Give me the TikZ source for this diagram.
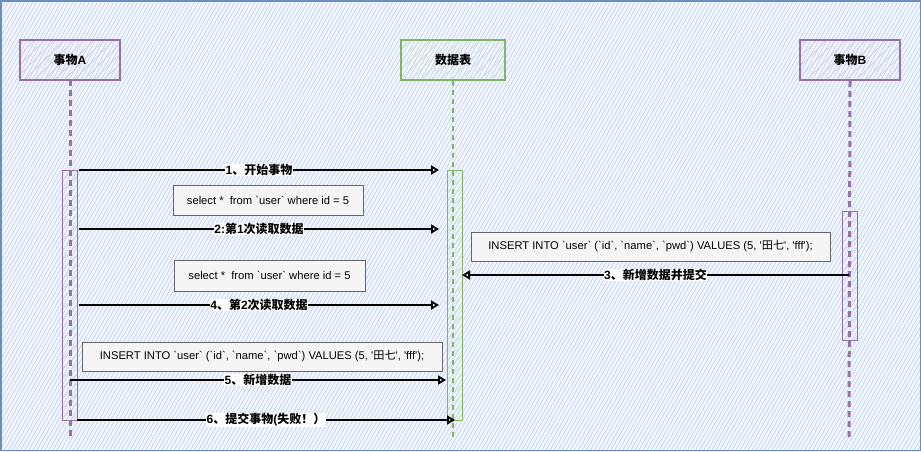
\documentclass[tikz,border=0pt]{standalone}
\usepackage{fontspec}
\setmainfont{Liberation Sans}[Ligatures=TeXOff]
\newfontfamily\cjk{Noto Sans CJK SC}
\usepackage{tikz}
\usetikzlibrary{arrows.meta,patterns.meta}

\definecolor{fondbleu}{HTML}{F4F7FD}
\definecolor{hachbleu}{HTML}{CADAF2}
\definecolor{bordbleu}{HTML}{6C8EBF}
\definecolor{mauve}{HTML}{9673A6}
\definecolor{mauveclair}{HTML}{DCCDE4}
\definecolor{vertfonce}{HTML}{82B366}
\definecolor{vertclair}{HTML}{CFE6CC}
\definecolor{grisnote}{HTML}{666666}
\definecolor{fondnote}{HTML}{F5F5F5}

\tikzset{
  acteur/.style={draw, line width=2pt, minimum height=40pt,
    font=\bfseries\fontsize{12}{14}\selectfont},
  barre/.style={draw, line width=1pt, minimum width=15pt},
  hachure/.style={pattern={Lines[angle=45,distance=7pt,line width=0.8pt]}, pattern color=#1},
  vie/.style={line width=3pt, dash pattern=on 6pt off 4pt},
  note/.style={draw=grisnote, fill=fondnote, line width=0.8pt, inner sep=0pt,
    font=\fontsize{11.2}{13}\selectfont},
  message/.style={line width=1.8pt, -{Triangle[open,length=8pt,width=9pt]}},
  etiquette/.style={fill=white, inner sep=0.5pt, font=\bfseries\fontsize{12}{14}\selectfont},
}

\begin{document}
\begin{tikzpicture}[x=1pt,y=-1pt]
    % Fond
    \useasboundingbox (0,0) rectangle (921,451);
    \fill[fondbleu] (0,0) rectangle (921,451);
    \fill[pattern={Lines[angle=60,distance=3.5pt,line width=1pt]}, pattern color=hachbleu] (0,0) rectangle (921,451);
    \draw[bordbleu, line width=1.5pt] (0.75,0.75) rectangle (920.25,450.25);

    % Acteurs
    \node[acteur, draw=mauve, hachure=mauveclair, minimum width=100pt] (tA) at (70,60) {{\cjk 事物}A};
    \node[acteur, draw=vertfonce, hachure=vertclair, minimum width=104pt] (tT) at (453,60) {\cjk 数据表};
    \node[acteur, draw=mauve, hachure=mauveclair, minimum width=100pt] (tB) at (850,60) {{\cjk 事物}B};

    % Barres d'activation
    \node[barre, draw=mauve, hachure=mauveclair, minimum height=250pt] (bA) at (70,295) {};
    \node[barre, draw=vertfonce, hachure=vertclair, minimum height=250pt] (bT) at (454.5,295) {};
    \node[barre, draw=mauve, hachure=mauveclair, minimum height=129pt] (bB) at (850,275.5) {};

    % Lignes de vie
    \coordinate (finA) at (70,440);
    \coordinate (finT) at (453,440);
    \coordinate (finB) at (849,440);
    \draw[vie, mauve] (tA.south) -- (finA);
    \draw[vie, vertfonce, line width=2.5pt, dash pattern=on 5pt off 4pt] (tT.south) -- (finT);
    \draw[vie, mauve] (tB.south) -- (finB);

    % Notes SQL
    \node[note, minimum width=190pt, minimum height=30pt] (n1) at (268,200) {select *~~from `user` where id = 5};
    \node[note, minimum width=191pt, minimum height=31pt] (n2) at (269.5,275.5) {select *~~from `user` where id = 5};
    \node[note, minimum width=359pt, minimum height=29pt] (n3) at (650.5,246.5) {INSERT INTO `user` (`id`, `name`, `pwd`) VALUES (5, '{\cjk 田七}', 'fff');};
    \node[note, minimum width=360pt, minimum height=29pt] (n4) at (262,356.5) {INSERT INTO `user` (`id`, `name`, `pwd`) VALUES (5, '{\cjk 田七}', 'fff');};

    % Extrémités des messages
    \coordinate (m1d) at (79,170);  \coordinate (m1f) at (439,170);
    \coordinate (m2d) at (79,229);  \coordinate (m2f) at (439,229);
    \coordinate (m3d) at (849,275); \coordinate (m3f) at (462,275);
    \coordinate (m4d) at (79,305);  \coordinate (m4f) at (439,305);
    \coordinate (m5d) at (70,380);  \coordinate (m5f) at (446,380);
    \coordinate (m6d) at (77,420);  \coordinate (m6f) at (455,420);

    % Messages
    \draw[message] (m1d) -- node[etiquette] (l1) {1{\cjk 、开始事物}} (m1f);
    \draw[message] (m2d) -- node[etiquette] (l2) {2:{\cjk 第}1{\cjk 次读取数据}} (m2f);
    \draw[message] (m3d) -- node[etiquette] (l3) {3{\cjk 、新增数据并提交}} (m3f);
    \draw[message] (m4d) -- node[etiquette] (l4) {4{\cjk 、第}2{\cjk 次读取数据}} (m4f);
    \draw[message] (m5d) -- node[etiquette] (l5) {5{\cjk 、新增数据}} (m5f);
    \draw[message] (m6d) -- node[etiquette] (l6) {6{\cjk 、提交事物}({\cjk 失败！）}} (m6f);
\end{tikzpicture}
\end{document}
